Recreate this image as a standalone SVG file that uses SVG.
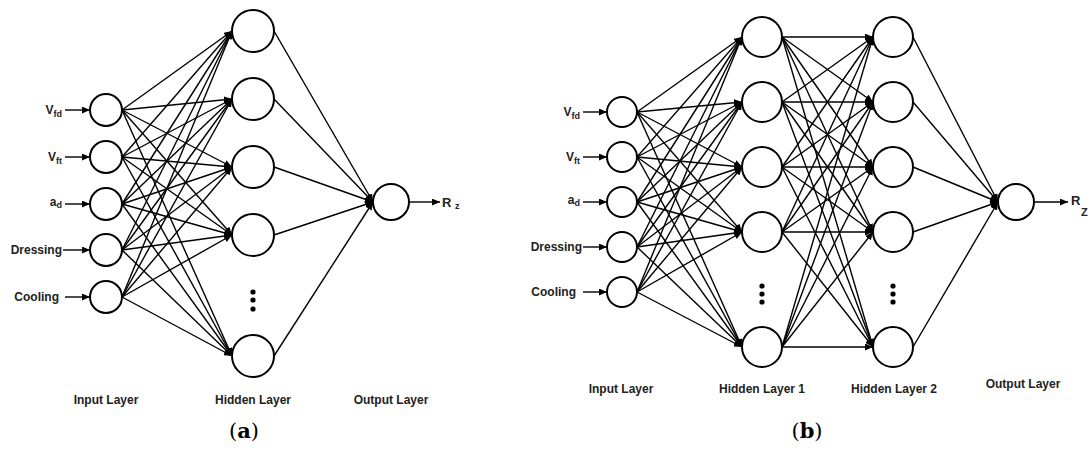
<svg xmlns="http://www.w3.org/2000/svg" width="1091" height="459" viewBox="0 0 1091 459">
<defs>
<marker id="ah" markerUnits="userSpaceOnUse" markerWidth="8" markerHeight="7" viewBox="0 0 8 7" refX="8" refY="3.5" orient="auto"><path d="M0,0 L8,3.5 L0,7 z" fill="#000"/></marker>
</defs>
<style>
.n{fill:#fff;stroke:#000;stroke-width:2}
.e{stroke:#000;stroke-width:1.4;fill:none;marker-end:url(#ah)}
.t{font-family:"Liberation Sans",Arial,sans-serif;font-weight:bold;font-size:12px;fill:#222}
.s{font-size:9px}
.c{font-family:"DejaVu Serif","Liberation Serif",serif;font-size:21px;fill:#000}
.d{fill:#000}
</style>
<rect width="1091" height="459" fill="#fff"/>
<g id="connectors">
<line class="e" x1="122" y1="110" x2="232" y2="31"/><line class="e" x1="122" y1="110" x2="232" y2="99"/><line class="e" x1="122" y1="110" x2="232" y2="167"/><line class="e" x1="122" y1="110" x2="232" y2="235"/><line class="e" x1="122" y1="110" x2="232" y2="356"/>
<line class="e" x1="122" y1="157" x2="232" y2="31"/><line class="e" x1="122" y1="157" x2="232" y2="99"/><line class="e" x1="122" y1="157" x2="232" y2="167"/><line class="e" x1="122" y1="157" x2="232" y2="235"/><line class="e" x1="122" y1="157" x2="232" y2="356"/>
<line class="e" x1="122" y1="204" x2="232" y2="31"/><line class="e" x1="122" y1="204" x2="232" y2="99"/><line class="e" x1="122" y1="204" x2="232" y2="167"/><line class="e" x1="122" y1="204" x2="232" y2="235"/><line class="e" x1="122" y1="204" x2="232" y2="356"/>
<line class="e" x1="122" y1="250" x2="232" y2="31"/><line class="e" x1="122" y1="250" x2="232" y2="99"/><line class="e" x1="122" y1="250" x2="232" y2="167"/><line class="e" x1="122" y1="250" x2="232" y2="235"/><line class="e" x1="122" y1="250" x2="232" y2="356"/>
<line class="e" x1="122" y1="297" x2="232" y2="31"/><line class="e" x1="122" y1="297" x2="232" y2="99"/><line class="e" x1="122" y1="297" x2="232" y2="167"/><line class="e" x1="122" y1="297" x2="232" y2="235"/><line class="e" x1="122" y1="297" x2="232" y2="356"/>
<line class="e" x1="274" y1="31" x2="373" y2="202"/><line class="e" x1="274" y1="99" x2="373" y2="202"/><line class="e" x1="274" y1="167" x2="373" y2="202"/><line class="e" x1="274" y1="235" x2="373" y2="202"/><line class="e" x1="274" y1="356" x2="373" y2="202"/>
<line class="e" x1="65" y1="110" x2="90" y2="110"/><line class="e" x1="65" y1="157" x2="90" y2="157"/><line class="e" x1="65" y1="204" x2="90" y2="204"/><line class="e" x1="63" y1="250" x2="90" y2="250"/><line class="e" x1="65" y1="297" x2="90" y2="297"/>
<line class="e" x1="409" y1="202" x2="440" y2="202"/>

<line class="e" x1="637" y1="112" x2="742" y2="37"/><line class="e" x1="637" y1="112" x2="742" y2="102"/><line class="e" x1="637" y1="112" x2="742" y2="167"/><line class="e" x1="637" y1="112" x2="742" y2="232"/><line class="e" x1="637" y1="112" x2="742" y2="347"/>
<line class="e" x1="637" y1="157" x2="742" y2="37"/><line class="e" x1="637" y1="157" x2="742" y2="102"/><line class="e" x1="637" y1="157" x2="742" y2="167"/><line class="e" x1="637" y1="157" x2="742" y2="232"/><line class="e" x1="637" y1="157" x2="742" y2="347"/>
<line class="e" x1="637" y1="202" x2="742" y2="37"/><line class="e" x1="637" y1="202" x2="742" y2="102"/><line class="e" x1="637" y1="202" x2="742" y2="167"/><line class="e" x1="637" y1="202" x2="742" y2="232"/><line class="e" x1="637" y1="202" x2="742" y2="347"/>
<line class="e" x1="637" y1="247" x2="742" y2="37"/><line class="e" x1="637" y1="247" x2="742" y2="102"/><line class="e" x1="637" y1="247" x2="742" y2="167"/><line class="e" x1="637" y1="247" x2="742" y2="232"/><line class="e" x1="637" y1="247" x2="742" y2="347"/>
<line class="e" x1="637" y1="292" x2="742" y2="37"/><line class="e" x1="637" y1="292" x2="742" y2="102"/><line class="e" x1="637" y1="292" x2="742" y2="167"/><line class="e" x1="637" y1="292" x2="742" y2="232"/><line class="e" x1="637" y1="292" x2="742" y2="347"/>
<line class="e" x1="782" y1="37" x2="873" y2="37"/><line class="e" x1="782" y1="37" x2="873" y2="102"/><line class="e" x1="782" y1="37" x2="873" y2="167"/><line class="e" x1="782" y1="37" x2="873" y2="232"/><line class="e" x1="782" y1="37" x2="873" y2="347"/>
<line class="e" x1="782" y1="102" x2="873" y2="37"/><line class="e" x1="782" y1="102" x2="873" y2="102"/><line class="e" x1="782" y1="102" x2="873" y2="167"/><line class="e" x1="782" y1="102" x2="873" y2="232"/><line class="e" x1="782" y1="102" x2="873" y2="347"/>
<line class="e" x1="782" y1="167" x2="873" y2="37"/><line class="e" x1="782" y1="167" x2="873" y2="102"/><line class="e" x1="782" y1="167" x2="873" y2="167"/><line class="e" x1="782" y1="167" x2="873" y2="232"/><line class="e" x1="782" y1="167" x2="873" y2="347"/>
<line class="e" x1="782" y1="232" x2="873" y2="37"/><line class="e" x1="782" y1="232" x2="873" y2="102"/><line class="e" x1="782" y1="232" x2="873" y2="167"/><line class="e" x1="782" y1="232" x2="873" y2="232"/><line class="e" x1="782" y1="232" x2="873" y2="347"/>
<line class="e" x1="782" y1="347" x2="873" y2="37"/><line class="e" x1="782" y1="347" x2="873" y2="102"/><line class="e" x1="782" y1="347" x2="873" y2="167"/><line class="e" x1="782" y1="347" x2="873" y2="232"/><line class="e" x1="782" y1="347" x2="873" y2="347"/>
<line class="e" x1="913" y1="37" x2="998" y2="202"/><line class="e" x1="913" y1="102" x2="998" y2="202"/><line class="e" x1="913" y1="167" x2="998" y2="202"/><line class="e" x1="913" y1="232" x2="998" y2="202"/><line class="e" x1="913" y1="347" x2="998" y2="202"/>
<line class="e" x1="583" y1="112" x2="607" y2="112"/><line class="e" x1="583" y1="157" x2="607" y2="157"/><line class="e" x1="583" y1="202" x2="607" y2="202"/><line class="e" x1="583" y1="247" x2="607" y2="247"/><line class="e" x1="583" y1="292" x2="607" y2="292"/>
<line class="e" x1="1034" y1="202" x2="1068" y2="202"/>
</g>

<g id="a-in1"><circle class="n" cx="106" cy="110" r="16"/><text class="t" x="62" y="114" text-anchor="end">V<tspan class="s" dy="3">fd</tspan></text></g>
<g id="a-in2"><circle class="n" cx="106" cy="157" r="16"/><text class="t" x="62" y="161" text-anchor="end">V<tspan class="s" dy="3">ft</tspan></text></g>
<g id="a-in3"><circle class="n" cx="106" cy="204" r="16"/><text class="t" x="62" y="206" text-anchor="end">a<tspan class="s" dy="2">d</tspan></text></g>
<g id="a-in4"><circle class="n" cx="106" cy="250" r="16"/><text class="t" x="62" y="254" text-anchor="end">Dressing</text></g>
<g id="a-in5"><circle class="n" cx="106" cy="297" r="16"/><text class="t" x="59" y="301" text-anchor="end">Cooling</text></g>
<g id="a-h1"><circle class="n" cx="253" cy="31" r="21"/></g>
<g id="a-h2"><circle class="n" cx="253" cy="99" r="21"/></g>
<g id="a-h3"><circle class="n" cx="253" cy="167" r="21"/></g>
<g id="a-h4"><circle class="n" cx="253" cy="235" r="21"/></g>
<g id="a-dots"><circle class="d" cx="253" cy="292" r="2.6"/><circle class="d" cx="253" cy="300" r="2.6"/><circle class="d" cx="253" cy="309" r="2.6"/></g>
<g id="a-h5"><circle class="n" cx="253" cy="356" r="21"/></g>
<g id="a-out"><circle class="n" cx="391" cy="202" r="18"/><text class="t" x="442" y="207" style="font-size:13px">R</text><text class="t" x="455" y="209" style="font-size:9px">z</text></g>
<g id="a-labels">
<text class="t" x="106" y="404" text-anchor="middle">Input Layer</text>
<text class="t" x="253" y="404" text-anchor="middle">Hidden Layer</text>
<text class="t" x="391" y="404" text-anchor="middle">Output Layer</text>
<text class="c" x="244" y="438" text-anchor="middle">(<tspan font-weight="bold">a</tspan>)</text>
</g>

<g id="b-in1"><circle class="n" cx="622" cy="112" r="15"/><text class="t" x="580" y="116" text-anchor="end">V<tspan class="s" dy="3">fd</tspan></text></g>
<g id="b-in2"><circle class="n" cx="622" cy="157" r="15"/><text class="t" x="580" y="161" text-anchor="end">V<tspan class="s" dy="3">ft</tspan></text></g>
<g id="b-in3"><circle class="n" cx="622" cy="202" r="15"/><text class="t" x="580" y="204" text-anchor="end">a<tspan class="s" dy="2">d</tspan></text></g>
<g id="b-in4"><circle class="n" cx="622" cy="247" r="15"/><text class="t" x="582" y="251" text-anchor="end">Dressing</text></g>
<g id="b-in5"><circle class="n" cx="622" cy="292" r="15"/><text class="t" x="576" y="296" text-anchor="end">Cooling</text></g>
<g id="b-h1-1"><circle class="n" cx="762" cy="37" r="20"/></g>
<g id="b-h1-2"><circle class="n" cx="762" cy="102" r="20"/></g>
<g id="b-h1-3"><circle class="n" cx="762" cy="167" r="20"/></g>
<g id="b-h1-4"><circle class="n" cx="762" cy="232" r="20"/></g>
<g id="b-h1-dots"><circle class="d" cx="762" cy="286" r="2.6"/><circle class="d" cx="762" cy="294" r="2.6"/><circle class="d" cx="762" cy="302" r="2.6"/></g>
<g id="b-h1-5"><circle class="n" cx="762" cy="347" r="20"/></g>
<g id="b-h2-1"><circle class="n" cx="893" cy="37" r="20"/></g>
<g id="b-h2-2"><circle class="n" cx="893" cy="102" r="20"/></g>
<g id="b-h2-3"><circle class="n" cx="893" cy="167" r="20"/></g>
<g id="b-h2-4"><circle class="n" cx="893" cy="232" r="20"/></g>
<g id="b-h2-dots"><circle class="d" cx="893" cy="286" r="2.6"/><circle class="d" cx="893" cy="294" r="2.6"/><circle class="d" cx="893" cy="302" r="2.6"/></g>
<g id="b-h2-5"><circle class="n" cx="893" cy="347" r="20"/></g>
<g id="b-out"><circle class="n" cx="1016" cy="202" r="18"/><text class="t" x="1071" y="205" style="font-size:13px">R</text><text class="t" x="1081" y="216" style="font-size:11px">Z</text></g>
<g id="b-labels">
<text class="t" x="621" y="393" text-anchor="middle">Input Layer</text>
<text class="t" x="762" y="393" text-anchor="middle">Hidden Layer 1</text>
<text class="t" x="894" y="393" text-anchor="middle">Hidden Layer 2</text>
<text class="t" x="1023" y="388" text-anchor="middle">Output Layer</text>
<text class="c" x="807" y="438" text-anchor="middle">(<tspan font-weight="bold">b</tspan>)</text>
</g>
</svg>
